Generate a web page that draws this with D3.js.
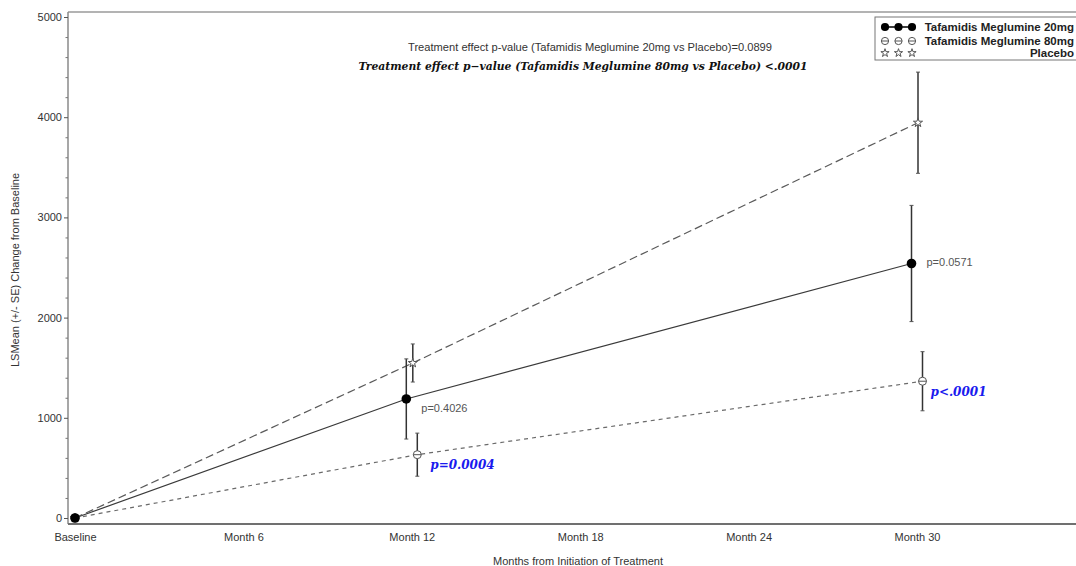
<!DOCTYPE html>
<html><head><meta charset="utf-8">
<script src="https://cdn.jsdelivr.net/npm/d3@7"></script>
<style>
body{margin:0;background:#fff;}
svg{display:block;}
</style></head>
<body>
<svg id="c" width="1076" height="566"></svg>
<script>
// ---- data ----
const months = [0, 12, 30];
const tickMonths = [0, 6, 12, 18, 24, 30];
const tickLabels = ["Baseline", "Month 6", "Month 12", "Month 18", "Month 24", "Month 30"];
const yTicks = [0, 1000, 2000, 3000, 4000, 5000];
const seriesNames = ["Tafamidis Meglumine 20mg", "Tafamidis Meglumine 80mg", "Placebo"];
const mean20 = [0, 1188, 2540];
const se20 = [0, 400, 580];
const mean80 = [0, 632, 1365];
const se80 = [0, 215, 295];
const meanPbo = [0, 1547, 3945];
const sePbo = [0, 190, 505];
const pvals20 = ["", "p=0.4026", "p=0.0571"];
const pvals80 = ["", "p=0.0004", "p<.0001"];
const title1 = "Treatment effect p-value (Tafamidis Meglumine 20mg vs Placebo)=0.0899";
const title2 = "Treatment effect p\u2212value (Tafamidis Meglumine 80mg vs Placebo) <.0001";

// ---- layout ----
const svg = d3.select("#c");
const x = d3.scaleLinear().domain([0, 30]).range([75, 917]);
const y = d3.scaleLinear().domain([0, 5000]).range([518, 17]);
const PL = 68, PT = 12, PB = 524, PR = 1090;

const series = [
  {name: seriesNames[0], mean: mean20, se: se20, dodge: -5.5, dash: null, stroke: "#3a3a3a", sym: "dot"},
  {name: seriesNames[2], mean: meanPbo, se: sePbo, dodge: 1, dash: "8,4", stroke: "#5a5a5a", sym: "star"},
  {name: seriesNames[1], mean: mean80, se: se80, dodge: 5.5, dash: "4,4", stroke: "#6a6a6a", sym: "theta"}
];
const px = (s, i) => x(months[i]) + (months[i] === 0 ? 0 : s.dodge);

// frame
svg.append("line").attr("x1", PL).attr("x2", PR).attr("y1", PT).attr("y2", PT)
  .attr("stroke", "#9a9a9a").attr("stroke-width", 1.5);
svg.append("line").attr("x1", PL).attr("x2", PL).attr("y1", PT).attr("y2", PB)
  .attr("stroke", "#8a8a8a").attr("stroke-width", 1.5);
svg.append("line").attr("x1", PL).attr("x2", PR).attr("y1", PB).attr("y2", PB)
  .attr("stroke", "#707070").attr("stroke-width", 2);

// y axis
const yAxis = d3.axisLeft(y).tickValues(yTicks).tickSize(4).tickPadding(2).tickFormat(d3.format("d"));
const ga = svg.append("g").attr("transform", `translate(${PL},0)`).call(yAxis);
ga.select(".domain").remove();
ga.selectAll(".tick line").attr("stroke", "#555");
ga.selectAll(".tick text").attr("font-family", "Arial, 'Liberation Sans', sans-serif")
  .attr("font-size", 11).attr("fill", "#333");
const minor = d3.range(0, 5001, 200).filter(v => v % 1000 !== 0);
const gm = svg.append("g").attr("transform", `translate(${PL},0)`)
  .call(d3.axisLeft(y).tickValues(minor).tickSize(2.5).tickFormat(""));
gm.select(".domain").remove();
gm.selectAll(".tick line").attr("stroke", "#777");

// x axis labels
const xAxis = d3.axisBottom(x).tickValues(tickMonths).tickSize(0).tickPadding(9)
  .tickFormat((d, i) => tickLabels[i]);
const gx = svg.append("g").attr("transform", `translate(0,${PB})`).call(xAxis);
gx.select(".domain").remove();
gx.selectAll(".tick text").attr("font-family", "Arial, 'Liberation Sans', sans-serif")
  .attr("font-size", 11).attr("fill", "#333");

// axis titles
svg.append("text").attr("x", 578).attr("y", 565).attr("text-anchor", "middle")
  .attr("font-family", "Arial, 'Liberation Sans', sans-serif").attr("font-size", 11).attr("fill", "#333")
  .text("Months from Initiation of Treatment");
svg.append("text").attr("transform", "translate(19,270) rotate(-90)").attr("text-anchor", "middle")
  .attr("font-family", "Arial, 'Liberation Sans', sans-serif").attr("font-size", 11).attr("fill", "#333")
  .text("LSMean (+/- SE) Change from Baseline");

// plot titles
svg.append("text").attr("x", 590).attr("y", 51).attr("text-anchor", "middle")
  .attr("font-family", "Arial, 'Liberation Sans', sans-serif").attr("font-size", 10.5).attr("fill", "#333")
  .attr("textLength", 364).attr("lengthAdjust", "spacingAndGlyphs").text(title1);
svg.append("text").attr("x", 583).attr("y", 70).attr("text-anchor", "middle")
  .attr("font-family", "'DejaVu Serif', serif").attr("font-style", "italic").attr("font-weight", "bold")
  .attr("font-size", 11).attr("fill", "#111")
  .attr("textLength", 449).attr("lengthAdjust", "spacingAndGlyphs").text(title2);

// lines
const line = d3.line();
series.forEach(s => {
  svg.append("path").attr("d", line(months.map((m, i) => [px(s, i), y(s.mean[i])])))
    .attr("fill", "none").attr("stroke", s.stroke).attr("stroke-width", 1.2)
    .attr("stroke-dasharray", s.dash);
});

// error bars
series.forEach(s => {
  months.forEach((m, i) => {
    if (s.se[i] === 0) return;
    const cx = px(s, i), y1 = y(s.mean[i] + s.se[i]), y2 = y(s.mean[i] - s.se[i]);
    svg.append("line").attr("x1", cx).attr("x2", cx).attr("y1", y1).attr("y2", y2)
      .attr("stroke", "#333").attr("stroke-width", 1.5);
    [y1, y2].forEach(yy => svg.append("line").attr("x1", cx - 2).attr("x2", cx + 2)
      .attr("y1", yy).attr("y2", yy).attr("stroke", "#555").attr("stroke-width", 1));
  });
});

// markers
function marker(g, sym, cx, cy, scale) {
  scale = scale || 1;
  if (sym === "dot") {
    g.append("circle").attr("cx", cx).attr("cy", cy).attr("r", 4.8 * scale).attr("fill", "#000");
  } else if (sym === "theta") {
    g.append("circle").attr("cx", cx).attr("cy", cy).attr("r", 4 * scale)
      .attr("fill", "#fff").attr("stroke", "#555").attr("stroke-width", 1);
    g.append("line").attr("x1", cx - 4 * scale).attr("x2", cx + 4 * scale).attr("y1", cy).attr("y2", cy)
      .attr("stroke", "#555").attr("stroke-width", 1);
  } else {
    g.append("path").attr("d", d3.symbol(d3.symbolStar, 26 * scale * scale)())
      .attr("transform", `translate(${cx},${cy})`)
      .attr("fill", "#fff").attr("stroke", "#555").attr("stroke-width", 1);
  }
}
const gMark = svg.append("g");
[series[1], series[2], series[0]].forEach(s => {
  months.forEach((m, i) => marker(gMark, s.sym, px(s, i), y(s.mean[i])));
});

// p-value annotations
months.forEach((m, i) => {
  if (pvals20[i]) {
    svg.append("text").attr("x", px(series[0], i) + 15).attr("y", y(series[0].mean[i]) + (i === 1 ? 13 : 3))
      .attr("font-family", "Arial, 'Liberation Sans', sans-serif").attr("font-size", 11).attr("fill", "#555")
      .text(pvals20[i]);
  }
  if (pvals80[i]) {
    svg.append("text").attr("x", px(series[2], i) + (i === 1 ? 13 : 8)).attr("y", y(series[2].mean[i]) + (i === 1 ? 14 : 15))
      .attr("font-family", "'DejaVu Serif', serif").attr("font-style", "italic").attr("font-weight", "bold")
      .attr("font-size", 12).attr("fill", "#1a1aee")
      .text(pvals80[i]);
  }
});

// legend
const lg = svg.append("g");
lg.append("rect").attr("x", 875).attr("y", 17).attr("width", 230).attr("height", 43)
  .attr("fill", "#fff").attr("stroke", "#777").attr("stroke-width", 1);
const legRows = [
  {s: series[0], y: 27, label: seriesNames[0]},
  {s: series[2], y: 41, label: seriesNames[1]},
  {s: series[1], y: 53, label: seriesNames[2]}
];
legRows.forEach((r, k) => {
  const xs = [885, 898.5, 912];
  if (r.s.sym === "dot") {
    lg.append("line").attr("x1", 885).attr("x2", 912).attr("y1", r.y).attr("y2", r.y)
      .attr("stroke", "#000").attr("stroke-width", 1.5);
  }
  xs.forEach(xx => marker(lg, r.s.sym, xx, r.y, r.s.sym === "dot" ? 0.85 : 0.9));
  lg.append("text").attr("y", r.y + 4)
    .attr("font-family", "'Liberation Sans', Arial, sans-serif").attr("font-weight", "bold")
    .attr("font-size", 11.5).attr("fill", "#222").text(r.label)
    .attr("x", 1074).attr("text-anchor", "end");
});
</script>
</body></html>
